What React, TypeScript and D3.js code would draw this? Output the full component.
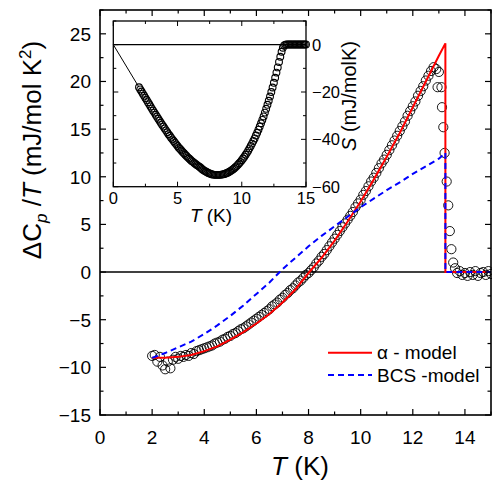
import React from "react";
import * as d3 from "d3";

// ---------- main panel data ----------
const dataT = [
  2.0, 2.1, 2.2, 2.3, 2.4, 2.5, 2.6, 2.7, 2.8, 2.9,
  3.0, 3.1, 3.2, 3.3, 3.4, 3.5, 3.6, 3.7, 3.8, 3.9,
  4.0, 4.1, 4.2, 4.3, 4.4, 4.5, 4.6, 4.7, 4.8, 4.9,
  5.0, 5.1, 5.2, 5.3, 5.4, 5.5, 5.6, 5.7, 5.8, 5.9,
  6.0, 6.1, 6.2, 6.3, 6.4, 6.5, 6.6, 6.7, 6.8, 6.9,
  7.0, 7.1, 7.2, 7.3, 7.4, 7.5, 7.6, 7.7, 7.8, 7.9,
  8.0, 8.1, 8.2, 8.3, 8.4, 8.5, 8.6, 8.7, 8.8, 8.9,
  9.0, 9.1, 9.2, 9.3, 9.4, 9.5, 9.6, 9.7, 9.8, 9.9,
  10.0, 10.1, 10.2, 10.3, 10.4, 10.5, 10.6, 10.7, 10.8, 10.9,
  11.0, 11.1, 11.2, 11.3, 11.4, 11.5, 11.6, 11.7, 11.8, 11.9,
  12.0, 12.1, 12.2, 12.3, 12.4, 12.5, 12.6, 12.7, 12.8, 12.9,
  12.95, 13.0, 13.1, 13.12, 13.17, 13.22, 13.3, 13.36, 13.42, 13.48,
  13.55, 13.62, 13.7, 13.8, 13.9, 14.0, 14.1, 14.2, 14.3, 14.4,
  14.5, 14.6, 14.7, 14.8, 14.9, 15.0,
];
const dataCT = [
  -8.8, -8.7, -9.4, -8.9, -9.8, -10.2, -9.4, -10.1, -9.2, -8.9,
  -9.1, -8.8, -8.9, -8.7, -8.8, -8.5, -8.6, -8.3, -8.2, -8.1,
  -8.0, -7.9, -7.8, -7.7, -7.5, -7.4, -7.3, -7.1, -7.0, -6.8,
  -6.7, -6.5, -6.4, -6.2, -6.0, -5.9, -5.7, -5.5, -5.3, -5.1,
  -4.9, -4.7, -4.5, -4.3, -4.1, -3.9, -3.6, -3.4, -3.2, -2.9,
  -2.7, -2.4, -2.2, -1.9, -1.7, -1.4, -1.1, -0.9, -0.6, -0.3,
  -0.1, 0.2, 0.5, 0.9, 1.2, 1.6, 1.9, 2.3, 2.7, 3.1,
  3.5, 3.9, 4.3, 4.7, 5.1, 5.5, 5.9, 6.3, 6.8, 7.2,
  7.6, 8.1, 8.5, 9.0, 9.5, 9.9, 10.4, 10.9, 11.4, 11.8,
  12.3, 12.8, 13.3, 13.8, 14.3, 14.8, 15.3, 15.8, 16.4, 16.9,
  17.4, 17.9, 18.5, 19.0, 19.5, 20.1, 20.6, 21.1, 21.5, 21.3,
  19.4, 21.0, 19.4, 17.3, 15.2, 12.5, 9.5, 7.0, 4.3, 2.4,
  1.0, 0.4, -0.1, 0.1, -0.3, -0.1, -0.4, 0.0, -0.3, 0.1,
  -0.4, -0.1, 0.0, -0.3, 0.1, -0.2,
];

// alpha-model fit
const alphaT = [2.0, 2.5, 3.0, 3.5, 4.0, 4.5, 5.0, 5.5, 6.0, 6.5, 7.0, 7.5, 8.0, 8.5, 9.0, 9.5, 10.0, 10.5, 11.0, 11.5, 12.0, 12.5, 13.0, 13.25, 13.25, 15.0];
const alphaCT = [-9.0, -9.0, -8.9, -8.7, -8.3, -7.8, -7.1, -6.3, -5.4, -4.4, -3.2, -1.8, -0.1, 1.5, 3.3, 5.3, 7.4, 9.7, 12.1, 14.6, 17.3, 20.0, 22.7, 24.0, 0, 0];

// BCS-model fit
const bcsT = [2.0, 2.5, 3.0, 3.5, 4.0, 4.5, 5.0, 5.5, 6.0, 6.5, 7.0, 7.5, 8.0, 8.5, 9.0, 9.5, 10.0, 10.5, 11.0, 11.5, 12.0, 12.5, 13.0, 13.25, 13.25, 15.0];
const bcsCT = [-9.0, -8.5, -7.9, -7.3, -6.5, -5.6, -4.6, -3.5, -2.3, -1.1, 0.3, 1.5, 2.7, 3.8, 4.8, 5.8, 6.8, 7.7, 8.6, 9.4, 10.3, 11.1, 11.9, 12.5, 0, 0];

const xTickLabels = [0, 2, 4, 6, 8, 10, 12, 14];
const yTickLabels = [-15, -10, -5, 0, 5, 10, 15, 20, 25];

// ---------- inset data (entropy) ----------
const sT = [
  2.0, 2.1, 2.2, 2.3, 2.4, 2.5, 2.6, 2.7, 2.8, 2.9,
  3.0, 3.1, 3.2, 3.3, 3.4, 3.5, 3.6, 3.7, 3.8, 3.9,
  4.0, 4.1, 4.2, 4.3, 4.4, 4.5, 4.6, 4.7, 4.8, 4.9,
  5.0, 5.1, 5.2, 5.3, 5.4, 5.5, 5.6, 5.7, 5.8, 5.9,
  6.0, 6.1, 6.2, 6.3, 6.4, 6.5, 6.6, 6.7, 6.8, 6.9,
  7.0, 7.1, 7.2, 7.3, 7.4, 7.5, 7.6, 7.7, 7.8, 7.9,
  8.0, 8.1, 8.2, 8.3, 8.4, 8.5, 8.6, 8.7, 8.8, 8.9,
  9.0, 9.1, 9.2, 9.3, 9.4, 9.5, 9.6, 9.7, 9.8, 9.9,
  10.0, 10.1, 10.2, 10.3, 10.4, 10.5, 10.6, 10.7, 10.8, 10.9,
  11.0, 11.1, 11.2, 11.3, 11.4, 11.5, 11.6, 11.7, 11.8, 11.9,
  12.0, 12.1, 12.2, 12.3, 12.4, 12.5, 12.6, 12.7, 12.8, 12.9,
  13.0, 13.1, 13.2, 13.3, 13.4, 13.5, 13.6, 13.7, 13.8, 13.9,
  14.0, 14.1, 14.2, 14.3, 14.4, 14.5, 14.6, 14.7, 14.8, 14.9, 15.0,
];
const sVal = [
  -18.0, -18.9, -19.8, -20.7, -21.6, -22.5, -23.4, -24.3, -25.2, -26.1,
  -27.0, -27.9, -28.7, -29.6, -30.4, -31.3, -32.1, -33.0, -33.8, -34.6,
  -35.4, -36.2, -37.0, -37.8, -38.5, -39.3, -40.0, -40.7, -41.4, -42.1,
  -42.8, -43.5, -44.1, -44.7, -45.3, -45.9, -46.5, -47.0, -47.6, -48.1,
  -48.6, -49.1, -49.5, -50.0, -50.4, -50.8, -51.2, -51.6, -52.0, -52.5,
  -52.9, -53.3, -53.6, -53.9, -54.2, -54.4, -54.6, -54.8, -54.9, -55.0,
  -55.0, -55.0, -55.0, -55.0, -54.9, -54.8, -54.7, -54.5, -54.3, -54.1,
  -53.8, -53.5, -53.1, -52.7, -52.3, -51.8, -51.3, -50.7, -50.1, -49.5,
  -48.8, -48.1, -47.3, -46.5, -45.7, -44.8, -43.8, -42.8, -41.8, -40.7,
  -39.6, -38.4, -37.2, -35.9, -34.6, -33.2, -31.8, -30.3, -28.7, -27.1,
  -25.4, -23.7, -21.9, -20.0, -18.1, -16.1, -14.0, -11.8, -9.6, -7.3,
  -5.1, -3.0, -1.3, -0.3, 0.0, 0.1, 0.1, 0.1, 0.1, 0.1,
  0.1, 0.1, 0.1, 0.1, 0.1, 0.1, 0.1, 0.1, 0.1, 0.1, 0.1,
];
const insetXTicks = [0, 5, 10, 15];
const insetYTicks = [0, -20, -40, -60];

const FONT = "'Liberation Sans', Arial, sans-serif";

export default function App() {
  const W = 492, H = 483;
  const x = d3.scaleLinear().domain([0, 15]).range([100, 491]);
  const y = d3.scaleLinear().domain([-15, 27.5]).range([415, 10]);
  const ix = d3.scaleLinear().domain([0, 15]).range([113.3, 306]);
  const iy = d3.scaleLinear().domain([-60, 10]).range([186.7, 21]);

  const lineMain = d3.line<[number, number]>().x((d) => x(d[0])).y((d) => y(d[1]));
  const alphaPath = lineMain(alphaT.map((t, i) => [t, alphaCT[i]]) as [number, number][]) || "";
  const bcsPath = lineMain(bcsT.map((t, i) => [t, bcsCT[i]]) as [number, number][]) || "";

  const [x0, x1] = x.range();
  const [y0, y1] = y.range();

  const xMinor = d3.range(0, 15.01, 1);
  const yMinor = d3.range(-15, 27.51, 2.5);
  const insetXMinor = d3.range(0, 15.01, 2.5);
  const insetYMinor = d3.range(-60, 10.01, 10);

  const minus = (v: number) => (v < 0 ? "\u2212" + Math.abs(v) : String(v));

  return (
    <svg
      width={W}
      height={H}
      style={{ position: "absolute", left: 0, top: 0, background: "#fff" }}
      fontFamily={FONT}
    >
      <rect x={0} y={0} width={W} height={H} fill="#fff" />
      <line x1={x(0)} x2={x(15)} y1={y(0)} y2={y(0)} stroke="#000" strokeWidth={1.6} />

      <g fill="none" stroke="#000" strokeWidth={0.9}>
        {dataT.map((t, i) => (
          <circle key={i} cx={x(t)} cy={y(dataCT[i])} r={4.6} />
        ))}
      </g>
      <path d={alphaPath} fill="none" stroke="#ff0000" strokeWidth={2} />
      <path d={bcsPath} fill="none" stroke="#0000ff" strokeWidth={2} strokeDasharray="6,4" />

      <g stroke="#000" strokeWidth={1.2}>
        {xMinor.map((t) => {
          const major = Math.round(t) % 2 === 0;
          const L = major ? 6 : 3.5;
          return (
            <g key={"xt" + t}>
              <line x1={x(t)} x2={x(t)} y1={y0} y2={y0 - L} />
              <line x1={x(t)} x2={x(t)} y1={y1} y2={y1 + L} />
            </g>
          );
        })}
        {yMinor.map((v) => {
          const major = Math.abs(v % 5) < 1e-6;
          const L = major ? 6 : 3.5;
          return (
            <g key={"yt" + v}>
              <line x1={x0} x2={x0 + L} y1={y(v)} y2={y(v)} />
              <line x1={x1} x2={x1 - L} y1={y(v)} y2={y(v)} />
            </g>
          );
        })}
      </g>
      <rect x={x0} y={y1} width={x1 - x0} height={y0 - y1} fill="none" stroke="#000" strokeWidth={1.6} />

      <g fontSize={19} fill="#000">
        {xTickLabels.map((t) => (
          <text key={"xl" + t} x={x(t)} y={444} textAnchor="middle">
            {t}
          </text>
        ))}
        {yTickLabels.map((v) => (
          <text key={"yl" + v} x={91} y={y(v) + 6.8} textAnchor="end">
            {minus(v)}
          </text>
        ))}
      </g>

      <text x={300} y={475} textAnchor="middle" fontSize={26}>
        <tspan fontStyle="italic">T</tspan> (K)
      </text>
      <text transform={`translate(41,150) rotate(-90)`} textAnchor="middle" fontSize={26}>
        {"\u0394C"}
        <tspan fontStyle="italic" fontSize={17} dy={6}>p</tspan>
        <tspan dy={-6}> /</tspan>
        <tspan fontStyle="italic">T</tspan>
        {" (mJ/mol K"}
        <tspan fontSize={17} dy={-10}>2</tspan>
        <tspan dy={10}>)</tspan>
      </text>

      <line x1={328} x2={372} y1={352.7} y2={352.7} stroke="#ff0000" strokeWidth={2} />
      <text x={377} y={359.3} fontSize={19}>{"\u03B1 - model"}</text>
      <line x1={328} x2={372} y1={375} y2={375} stroke="#0000ff" strokeWidth={2} strokeDasharray="6,4" />
      <text x={377} y={381.8} fontSize={19}>BCS -model</text>

      {/* inset */}
      <rect x={ix(0)} y={iy(10)} width={ix(15) - ix(0)} height={iy(-60) - iy(10)} fill="#fff" />
      <line x1={ix(0)} x2={ix(15)} y1={iy(0)} y2={iy(0)} stroke="#000" strokeWidth={1.2} />
      <line x1={ix(0)} x2={ix(sT[0])} y1={iy(0)} y2={iy(sVal[0])} stroke="#000" strokeWidth={1} />
      <g fill="none" stroke="#000" strokeWidth={1.1}>
        {sT.map((t, i) => (
          <circle key={"s" + i} cx={ix(t)} cy={iy(sVal[i])} r={3.4} />
        ))}
      </g>
      <g stroke="#000" strokeWidth={1}>
        {insetXMinor.map((t) => {
          const L = t % 5 === 0 ? 5 : 3;
          return (
            <g key={"ixt" + t}>
              <line x1={ix(t)} x2={ix(t)} y1={iy(-60)} y2={iy(-60) - L} />
              <line x1={ix(t)} x2={ix(t)} y1={iy(10)} y2={iy(10) + L} />
            </g>
          );
        })}
        {insetYMinor.map((v) => {
          const L = v % 20 === 0 ? 5 : 3;
          return (
            <g key={"iyt" + v}>
              <line x1={ix(0)} x2={ix(0) + L} y1={iy(v)} y2={iy(v)} />
              <line x1={ix(15)} x2={ix(15) - L} y1={iy(v)} y2={iy(v)} />
            </g>
          );
        })}
      </g>
      <rect
        x={ix(0)}
        y={iy(10)}
        width={ix(15) - ix(0)}
        height={iy(-60) - iy(10)}
        fill="none"
        stroke="#000"
        strokeWidth={1.3}
      />
      <g fontSize={16.5} fill="#000">
        {insetXTicks.map((t) => (
          <text key={"ixl" + t} x={ix(t)} y={204} textAnchor="middle">
            {t}
          </text>
        ))}
        {insetYTicks.map((v) => (
          <text key={"iyl" + v} x={312} y={iy(v) + 6} textAnchor="start">
            {minus(v)}
          </text>
        ))}
      </g>
      <text x={211} y={222} textAnchor="middle" fontSize={19}>
        <tspan fontStyle="italic">T</tspan> (K)
      </text>
      <text transform={`translate(356,96) rotate(-90)`} textAnchor="middle" fontSize={20}>
        <tspan fontStyle="italic">S</tspan> (mJ/molK)
      </text>
    </svg>
  );
}
